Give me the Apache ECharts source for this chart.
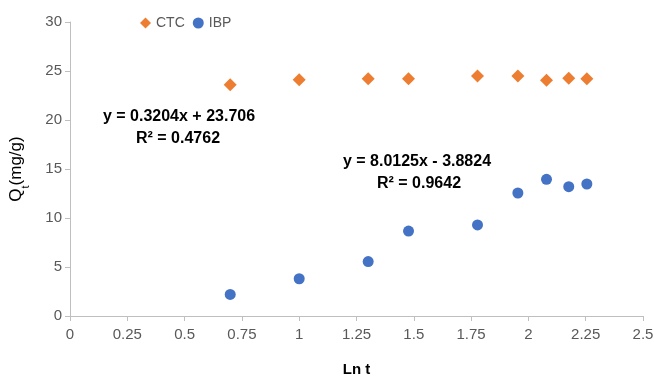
<!DOCTYPE html>
<html><head><meta charset="utf-8">
<script src="https://cdn.jsdelivr.net/npm/echarts@6/dist/echarts.min.js"></script>
<style>html,body{margin:0;padding:0;background:#fff}#c{width:654px;height:376px}</style>
</head><body><div id="c"></div>
<script>
const lnT = [0.699, 1.0, 1.301, 1.477, 1.778, 1.954, 2.079, 2.176, 2.255];
const ctc = [23.6, 24.1, 24.2, 24.2, 24.5, 24.5, 24.05, 24.25, 24.2];
const ibp = [2.2, 3.8, 5.55, 8.67, 9.29, 12.55, 13.95, 13.2, 13.47];
const seriesNames = ['CTC', 'IBP'];
const ctcEq = ['y = 0.3204x + 23.706', 'R² = 0.4762'];
const ibpEq = ['y = 8.0125x - 3.8824', 'R² = 0.9642'];

const font = 'Liberation Sans';
const eqFont = 'bold 16px "' + font + '"';
const chart = echarts.init(document.getElementById('c'));
function eq(text, x, y) {
  return {type: 'text', position: [x, y],
    style: {text: text, x: 0, y: 0, align: 'center', verticalAlign: 'middle', font: eqFont, fill: '#000'}};
}
chart.setOption({
  animation: false,
  textStyle: {fontFamily: font},
  grid: {left: 70, right: 11, top: 22, bottom: 60, containLabel: false, outerBoundsMode: 'none'},
  legend: {
    left: 135, top: 11, itemGap: 8, itemWidth: 11, itemHeight: 11,
    textStyle: {color: '#595959', fontSize: 14, fontFamily: font},
    data: seriesNames
  },
  xAxis: {
    type: 'value', min: 0, max: 2.5, interval: 0.25,
    name: 'Ln t', nameLocation: 'middle', nameGap: 46,
    nameTextStyle: {fontWeight: 'bold', fontSize: 15, color: '#000', fontFamily: font},
    axisLine: {lineStyle: {color: '#bfbfbf', width: 1}},
    axisTick: {show: true, length: 5, lineStyle: {color: '#bfbfbf'}},
    axisLabel: {color: '#595959', fontSize: 15, margin: 11},
    splitLine: {show: false}
  },
  yAxis: {
    type: 'value', min: 0, max: 30, interval: 5,
    name: 'Q{sub|t}(mg/g)', nameLocation: 'middle', nameGap: 45, nameRotate: 90,
    nameTextStyle: {fontSize: 17, color: '#000', fontFamily: font,
      rich: {sub: {fontSize: 11, verticalAlign: 'bottom', padding: [0,0,-6,0], fontFamily: font}}},
    axisLine: {show: true, lineStyle: {color: '#bfbfbf', width: 1}},
    axisTick: {show: true, length: 5, lineStyle: {color: '#bfbfbf'}},
    axisLabel: {color: '#595959', fontSize: 15, margin: 8},
    splitLine: {show: false}
  },
  series: [
    {name: seriesNames[0], type: 'scatter', symbol: 'diamond', symbolSize: 13,
     itemStyle: {color: '#ED7D31', opacity: 1}, data: lnT.map((x, i) => [x, ctc[i]])},
    {name: seriesNames[1], type: 'scatter', symbol: 'circle', symbolSize: 11,
     itemStyle: {color: '#4472C4', opacity: 1}, data: lnT.map((x, i) => [x, ibp[i]])}
  ],
  graphic: [
    eq(ctcEq[0], 179, 117), eq(ctcEq[1], 178, 139),
    eq(ibpEq[0], 417, 162), eq(ibpEq[1], 419, 184)
  ]
});
</script></body></html>
